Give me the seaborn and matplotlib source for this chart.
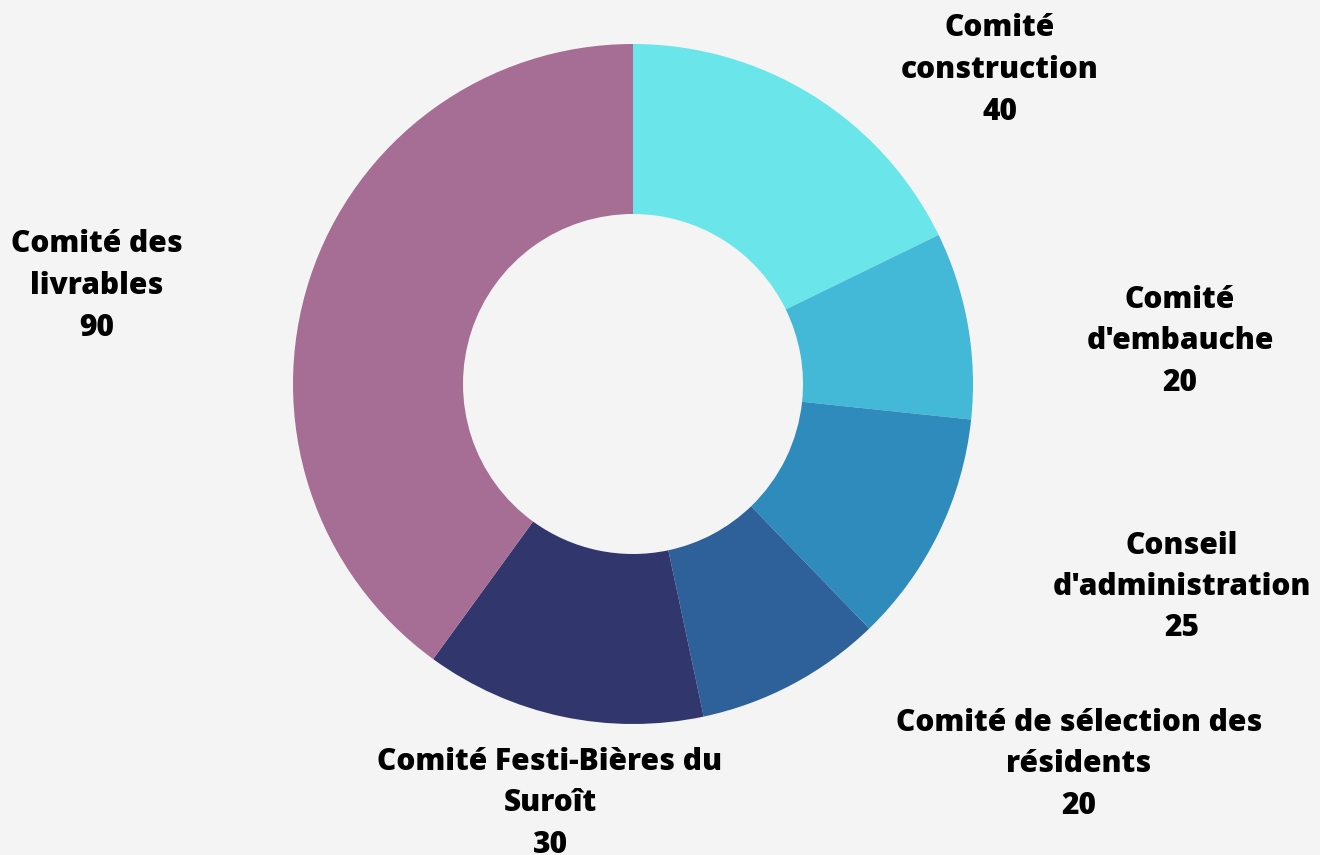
import matplotlib
matplotlib.use("Agg")
import matplotlib.pyplot as plt
import seaborn as sns

# Daten
comites = ["Comité\nconstruction", "Comité\nd'embauche", "Conseil\nd'administration",
           "Comité de sélection des\nrésidents", "Comité Festi-Bières du\nSuroît",
           "Comité des\nlivrables"]
valeurs = [40, 20, 25, 20, 30, 90]
couleurs = ["#6ae5e9", "#43b8d7", "#2e8bbb", "#2e6199", "#31366d", "#a66d95"]

# Position des étiquettes (pixels, centre du bloc de texte)
etiq_x = [1000, 1180, 1182, 1079, 550, 97]
etiq_y = [70, 341, 587, 764, 803, 286]

sns.set_theme(style="white")
plt.rcParams["font.family"] = ["Open Sans", "DejaVu Sans"]

fond = "#f4f4f4"
fig = plt.figure(figsize=(13.2, 8.55), dpi=100, facecolor=fond)
ax = fig.add_axes([293 / 1320, 131 / 855, 680 / 1320, 680 / 855])
ax.set_facecolor(fond)

ax.pie(valeurs, colors=sns.color_palette(couleurs), startangle=90, counterclock=False,
       radius=1, wedgeprops=dict(width=0.5, edgecolor="none"))
ax.set_xlim(-1, 1)
ax.set_ylim(-1, 1)
ax.set_aspect("equal")
ax.axis("off")

for nom, val, x, y in zip(comites, valeurs, etiq_x, etiq_y):
    fig.text(x / 1320, 1 - y / 855, f"{nom}\n{val}", ha="center", va="center",
             multialignment="center", fontsize=21.5, fontweight="heavy",
             color="black", linespacing=1.5)

plt.savefig("out.png", dpi=100, facecolor=fond)
